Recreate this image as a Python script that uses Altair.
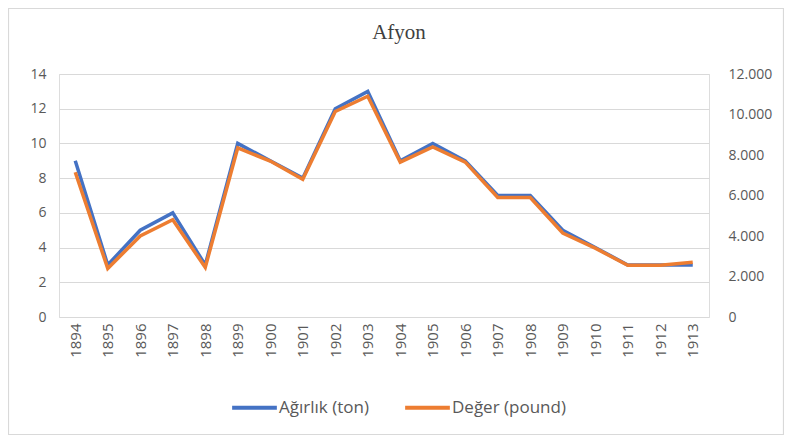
import altair as alt
import pandas as pd

years = [str(y) for y in range(1894, 1914)]
agirlik_ton = [9, 3, 5, 6, 3, 10, 9, 8, 12, 13, 9, 10, 9, 7, 7, 5, 4, 3, 3, 3]
deger_pound = [7150, 2400, 4000, 4800, 2450, 8350, 7700, 6800, 10150, 10900,
               7650, 8400, 7650, 5900, 5900, 4150, 3400, 2550, 2550, 2700]
series_names = ["Ağırlık (ton)", "Değer (pound)"]
series_colors = ["#4472C4", "#ED7D31"]

df = pd.DataFrame({"year": years, "ton": agirlik_ton, "pound": deger_pound})
df_blue = df.assign(series=series_names[0])
df_orange = df.assign(series=series_names[1])

FONT = "Open Sans"
GRAY = "#595959"

color_enc = alt.Color("series:N", title=None,
                      scale=alt.Scale(domain=series_names, range=series_colors),
                      legend=alt.Legend(title=None, orient="none", direction="horizontal",
                                        legendX=171, legendY=309, symbolType="stroke",
                                        symbolStrokeWidth=4, symbolSize=2000,
                                        labelFont=FONT, labelFontSize=17,
                                        labelColor=GRAY, columnPadding=28,
                                        labelOffset=0))

x_enc = alt.X("year:O", sort=years, title=None,
              scale=alt.Scale(type="point", padding=0.5),
              axis=alt.Axis(labelAngle=270, labelFont=FONT, labelFontSize=15,
                            labelColor=GRAY, ticks=False, domain=False,
                            labelPadding=6, grid=False))

border = alt.Chart(pd.DataFrame({"b": [0]})).mark_rect(
    fill="transparent", stroke="#D9D9D9", strokeWidth=1.2
).encode(x=alt.value(-50.5), x2=alt.value(724.5), y=alt.value(-65.5), y2=alt.value(360.5))

blue = alt.Chart(df_blue).mark_line(strokeWidth=3.5).encode(
    x=x_enc,
    y=alt.Y("ton:Q", title=None,
            scale=alt.Scale(domain=[0, 14], nice=False),
            axis=alt.Axis(values=list(range(0, 15, 2)), labelFont=FONT,
                          labelFontSize=14, labelColor=GRAY, ticks=False,
                          domain=False, grid=True, gridColor="#D9D9D9",
                          gridWidth=1, labelPadding=13, orient="left")),
    color=color_enc,
)

orange = alt.Chart(df_orange).mark_line(strokeWidth=3.5).encode(
    x=x_enc,
    y=alt.Y("pound:Q", title=None,
            scale=alt.Scale(domain=[0, 12000], nice=False),
            axis=alt.Axis(values=list(range(0, 12001, 2000)), labelFont=FONT,
                          labelFontSize=14, labelColor=GRAY, ticks=False,
                          domain=False, grid=False, labelPadding=19, orient="right",
                          labelAlign="left",
                          labelExpr="replace(format(datum.value, ','), ',', '.')")),
    color=color_enc,
)

chart = alt.layer(border, blue, orange).resolve_scale(y="independent").properties(
    width=650, height=243,
    title=alt.TitleParams("Afyon", font="Liberation Serif", fontSize=21,
                          fontWeight="normal", color="#404040", anchor="middle",
                          offset=-35.5, dx=15),
    autosize=alt.AutoSizeParams(type="none"),
    padding={"left": 51, "top": 66, "right": 75, "bottom": 118},
).configure_view(stroke=None).configure(background="white")

chart.save("out.html", embed_options={"renderer": "svg", "actions": False})
